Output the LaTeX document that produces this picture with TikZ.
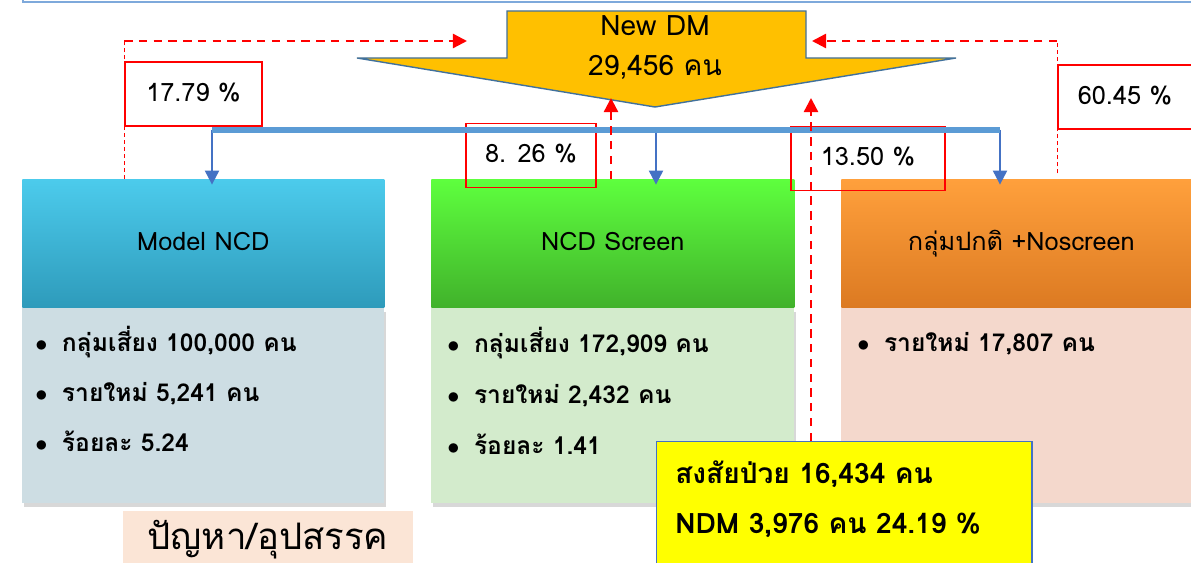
\documentclass[tikz,border=0pt]{standalone}
\usepackage{fontspec}
\setmainfont[Script=Thai]{Loma}
\usetikzlibrary{positioning,arrows.meta,shadows}

\definecolor{dmgold}{HTML}{FFC000}
\definecolor{dmedge}{HTML}{41719C}
\definecolor{busblue}{HTML}{5B9BD5}
\definecolor{tipblue}{HTML}{4472C4}
\definecolor{ruleblue}{HTML}{7EA9DB}
\definecolor{cyantop}{HTML}{4CCBEC}
\definecolor{cyanbot}{HTML}{2E9BBB}
\definecolor{cyanbody}{HTML}{CDDDE3}
\definecolor{greentop}{HTML}{5EFF3E}
\definecolor{greenbot}{HTML}{41B22B}
\definecolor{greenbody}{HTML}{D3EBCC}
\definecolor{orangetop}{HTML}{FFA03C}
\definecolor{orangebot}{HTML}{DC7A22}
\definecolor{orangebody}{HTML}{F4D8CC}
\definecolor{notepeach}{HTML}{FBE5D6}
\definecolor{suspyellow}{HTML}{FFFF00}

\newcommand\dotmark{\makebox[19pt][l]{$\bullet$}}

\begin{document}
\begin{tikzpicture}[x=0.025cm, y=-0.025cm,
    hdr/.style={rectangle, anchor=north west, minimum height=3.2cm, inner sep=0pt,
      text height=13pt, text depth=3pt, font=\fontsize{18}{21}\selectfont},
    bodybox/.style={rectangle, minimum height=4.875cm, inner sep=0pt,
      drop shadow={opacity=0.3, shadow xshift=1pt, shadow yshift=-3pt}},
    item/.style={anchor=base west, inner sep=0pt, font=\bfseries\fontsize{17.5}{20}\selectfont},
    pct/.style={rectangle, draw=red, line width=1.2pt, minimum height=1.6cm, inner sep=0pt,
      text height=13pt, text depth=3pt, font=\fontsize{18}{20}\selectfont},
    dmtext/.style={anchor=base, inner sep=0pt, font=\fontsize{20}{24}\selectfont},
    ytext/.style={anchor=base west, inner sep=0pt, font=\bfseries\fontsize{20}{24}\selectfont},
    bus/.style={busblue, line width=3.6pt},
    feed/.style={tipblue, line width=1.4pt, shorten >=-4pt, -{Triangle[width=10pt,length=10pt]}},
    link/.style={red, line width=1.7pt, dash pattern=on 6pt off 4.5pt, -{Triangle[width=10pt,length=10pt]}},
    thinlink/.style={red, line width=0.7pt, dash pattern=on 3pt off 2pt},
  ]
  \clip (0,0) rectangle (1191,563);
  \fill[white] (0,0) rectangle (1191,563);

  % top rule
  \draw[ruleblue, line width=1.5pt] (23,-5) -- (23,2) -- (1195,2);

  % three groups
  \node[hdr, minimum width=9.05cm, top color=cyantop, bottom color=cyanbot] (hdrA) at (22,179) {Model NCD};
  \node[bodybox, minimum width=9.05cm, fill=cyanbody, below=0pt of hdrA] (bodyA) {};
  \node[hdr, minimum width=9.075cm, top color=greentop, bottom color=greenbot] (hdrB) at (431,179) {NCD Screen};
  \node[bodybox, minimum width=9.075cm, fill=greenbody, below=0pt of hdrB] (bodyB) {};
  \node[hdr, minimum width=9cm, top color=orangetop, bottom color=orangebot] (hdrC) at (841,179) {กลุ่มปกติ +Noscreen};
  \node[bodybox, minimum width=9cm, fill=orangebody, below=0pt of hdrC] (bodyC) {};

  \foreach \txt [count=\i] in {{กลุ่มเสี่ยง 100,000 คน}, {รายใหม่ 5,241 คน}, {ร้อยละ 5.24}}
    \node[item] (itemA\i) at (35,302+50*\i) {\dotmark\txt};
  \foreach \txt [count=\i] in {{กลุ่มเสี่ยง 172,909 คน}, {รายใหม่ 2,432 คน}, {ร้อยละ 1.41}}
    \node[item] (itemB\i) at (447,302+51*\i) {\dotmark\txt};
  \node[item] (itemC1) at (857,352) {\dotmark รายใหม่ 17,807 คน};

  % new DM arrow
  \draw[dmedge, fill=dmgold, line width=1pt] (507,11) -- (806,11) -- (806,58) -- (956,58)
    -- (655,107) -- (357,58) -- (507,58) -- cycle;
  \node[dmtext] (dmtop) at (655,36) {New DM};
  \node[dmtext] (dmnum) at (655,76) {29,456 คน};

  % percent labels
  \node[pct, minimum width=3.425cm] (pA) at (193.5,94) {17.79 \%};
  \node[pct, minimum width=3.25cm] (pB) at (531,155.5) {8. 26 \%};
  \node[pct, minimum width=3.85cm] (pC) at (868,158.5) {13.50 \%};
  \node[pct, minimum width=3.35cm] (pD) at (1125,97) {60.45 \%};

  % distribution bus
  \coordinate (busA) at (212,130);
  \coordinate (busB) at (656,130);
  \coordinate (busC) at (1000,130);
  \foreach \b/\h in {A/hdrA, B/hdrB, C/hdrC}
    \draw[feed] (bus\b) -- (bus\b |- \h.north);
  \draw[bus] (busA) -- (busC);

  % suspected box
  \node[rectangle, anchor=north west, minimum width=9.375cm, minimum height=3.5cm,
    fill=suspyellow, draw=tipblue, line width=1pt] (susp) at (656,441) {};
  \node[ytext] (suspA) at (675,483) {สงสัยป่วย 16,434 คน};
  \node[ytext] (suspB) at (675,533) {NDM 3,976 คน 24.19 \%};

  % feedback links
  \coordinate (inL) at (467,41);
  \coordinate (inR) at (812,41);
  \coordinate (upB) at (611,98);
  \coordinate (upC) at (811,98);
  \draw[thinlink] (pA.west |- hdrA.north) -- (pA.west |- inL);
  \draw[link] (pA.west |- inL) -- (inL);
  \draw[thinlink, shorten <=4pt] (pD.west |- hdrC.north) -- (pD.west |- inR);
  \draw[link] (pD.west |- inR) -- (inR);
  \draw[link] (upB |- hdrB.north) -- (upB);
  \draw[link] (upC |- susp.north) -- (upC);

  % problems
  \node[rectangle, anchor=north west, minimum width=7.25cm, minimum height=2cm,
    fill=notepeach] (issue) at (123,511) {};
  \node[anchor=base, inner sep=0pt, font=\fontsize{26}{30}\selectfont] (issueT) at (268,549) {ปัญหา/อุปสรรค};
\end{tikzpicture}
\end{document}
